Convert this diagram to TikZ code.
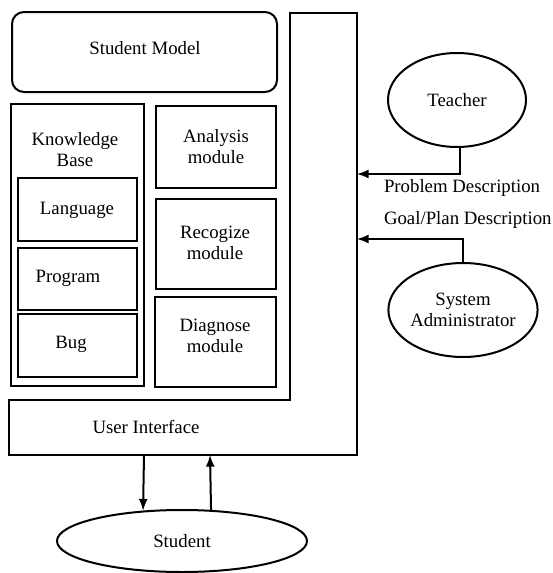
\documentclass[tikz,border=0pt]{standalone}
\usepackage{fontspec}
\setmainfont{Liberation Serif}
\usetikzlibrary{arrows}
\usetikzlibrary{shapes.geometric}
\tikzset{>=latex}
\tikzset{actor/.style = {draw, ellipse, inner sep = 0pt}}

\begin{document}
\begin{tikzpicture}[x = 0.5pt, y = -0.5pt, line width = 1pt, font = \fontsize{9.4}{10.5}\selectfont]
\useasboundingbox (0,0) rectangle (552,573);

\draw[rounded corners = 6pt] (12,12) rectangle (277,92);
\node (model) at (145,48) {Student Model};

\draw (9,400) -- (290,400) -- (290,13) -- (357,13) -- (357,455) -- (9,455) -- cycle;
\node (ui) at (146,427) {User Interface};

\draw (11,104) rectangle (144,386);
\node[align = center] (kb) at (75,150) {Knowledge\\Base};

\draw (18,178) rectangle (137,241);
\node (lang) at (77,210) {Language};

\draw (18,248) rectangle (137,310);
\node (prog) at (68,278) {Program};

\draw (18,314) rectangle (137,377);
\node (bug) at (71,344) {Bug};

\draw (156,106) rectangle (276,188);
\node[align = center] (analysis) at (216,147) {Analysis\\module};

\draw (156,199) rectangle (276,289);
\node[align = center] (recog) at (215,243) {Recogize\\module};

\draw (155,297) rectangle (276,387);
\node[align = center] (diag) at (215,336) {Diagnose\\module};

\node[actor, minimum width = 69pt, minimum height = 47pt] (teacher) at (457,100) {Teacher};
\node[actor, align = center, minimum width = 65pt, minimum height = 47pt] (admin) at (463,310) {System\\Administrator};
\node[actor, minimum width = 125pt, minimum height = 31pt] (student) at (182,541) {Student};

\coordinate (pd) at (357,174);
\coordinate (gd) at (357,239);
\draw[->] (teacher.-86) |- (pd);
\draw[->] (admin.north) |- (gd);
\node[anchor = west, inner sep = 0pt] (pdtext) at (383,188) {Problem Description};
\node[anchor = west, inner sep = 0pt] (gdtext) at (383,220) {Goal/Plan Description};

\coordinate (uiout) at (144,455);
\coordinate (uiin) at (210,455);
\draw[->] (uiout) -- (student.142);
\draw[->] (student.47) -- (uiin);

\end{tikzpicture}
\end{document}
